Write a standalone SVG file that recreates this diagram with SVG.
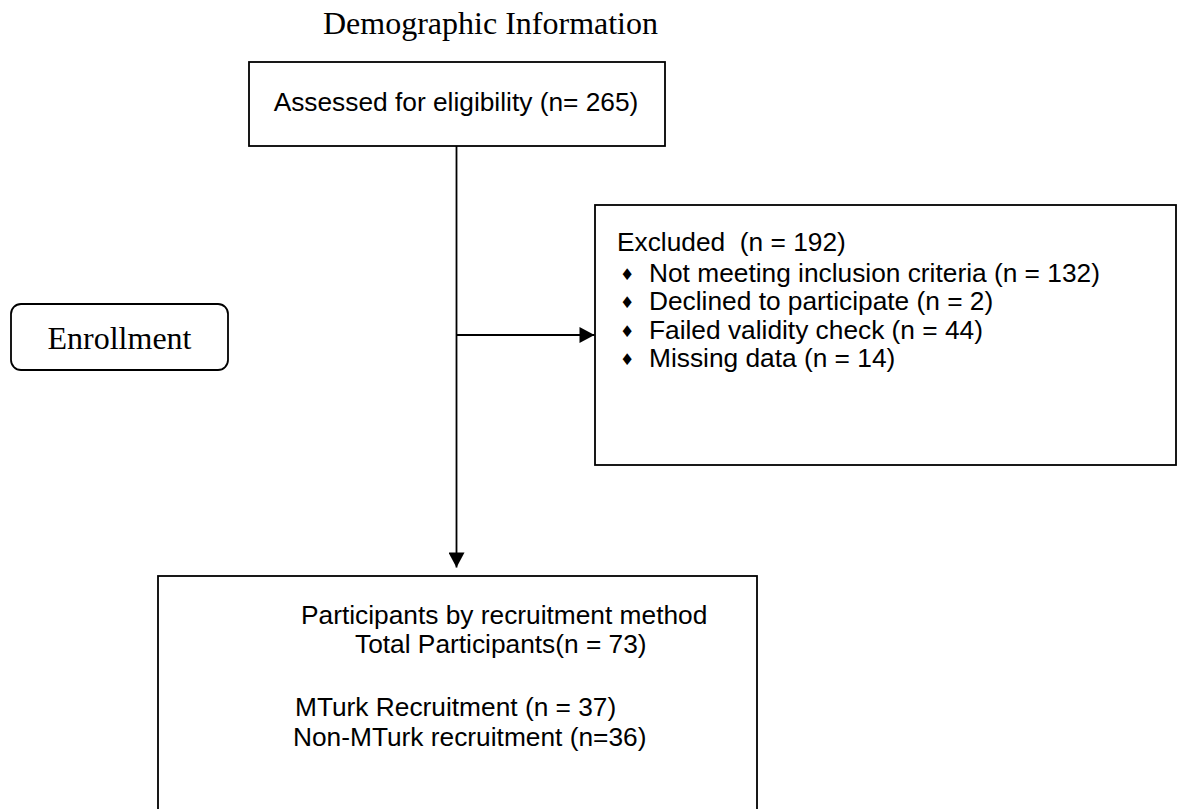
<svg xmlns="http://www.w3.org/2000/svg" width="1180" height="809" viewBox="0 0 1180 809">
  <style>
    .box { fill: #ffffff; stroke: #000000; stroke-width: 1.8; }
    .sans { font-family: "Liberation Sans", Arial, sans-serif; font-size: 26.3px; fill: #000000; }
    .serif { font-family: "Liberation Serif", "Times New Roman", serif; font-size: 32px; fill: #000000; }
    .bullet { font-family: "DejaVu Sans", sans-serif; font-size: 16px; fill: #000000; }
    .conn { fill: none; stroke: #000000; stroke-width: 1.8; }
  </style>
  <defs>
    <marker id="arrow" markerUnits="userSpaceOnUse" markerWidth="16" markerHeight="16" viewBox="0 0 15 16" refX="15" refY="8" orient="auto">
      <path d="M0,0 L15,8 L0,16 Z" fill="#000000"/>
    </marker>
  </defs>
  <rect width="1180" height="809" fill="#ffffff"/>

  <g id="title">
    <text class="serif" x="323" y="34">Demographic Information</text>
  </g>

  <g id="connectors">
    <line class="conn" x1="456.5" y1="146" x2="456.5" y2="567.5" marker-end="url(#arrow)"/>
    <line class="conn" x1="456.5" y1="335" x2="594.5" y2="335" marker-end="url(#arrow)"/>
  </g>

  <g id="assessed">
    <rect class="box" x="249" y="62" width="416" height="84"/>
    <text class="sans" x="456" y="111" text-anchor="middle">Assessed for eligibility (n= 265)</text>
  </g>

  <g id="enrollment">
    <rect class="box" x="11" y="304" width="217" height="66" rx="10" ry="10"/>
    <text class="serif" x="119.5" y="349" text-anchor="middle">Enrollment</text>
  </g>

  <g id="excluded">
    <rect class="box" x="595" y="205" width="581" height="260"/>
    <text class="sans" x="617" y="251" xml:space="preserve">Excluded  (n = 192)</text>
    <text class="bullet" x="620" y="280">♦</text>
    <text class="sans" x="649" y="282">Not meeting inclusion criteria (n = 132)</text>
    <text class="bullet" x="620" y="308">♦</text>
    <text class="sans" x="649" y="310">Declined to participate (n = 2)</text>
    <text class="bullet" x="620" y="337">♦</text>
    <text class="sans" x="649" y="339">Failed validity check (n = 44)</text>
    <text class="bullet" x="620" y="365">♦</text>
    <text class="sans" x="649" y="367">Missing data (n = 14)</text>
  </g>

  <g id="participants">
    <rect class="box" x="158" y="576" width="599" height="260"/>
    <text class="sans" x="301" y="624">Participants by recruitment method</text>
    <text class="sans" x="355" y="653">Total Participants(n = 73)</text>
    <text class="sans" x="295" y="716">MTurk Recruitment (n = 37)</text>
    <text class="sans" x="293" y="746">Non-MTurk recruitment (n=36)</text>
  </g>
</svg>
